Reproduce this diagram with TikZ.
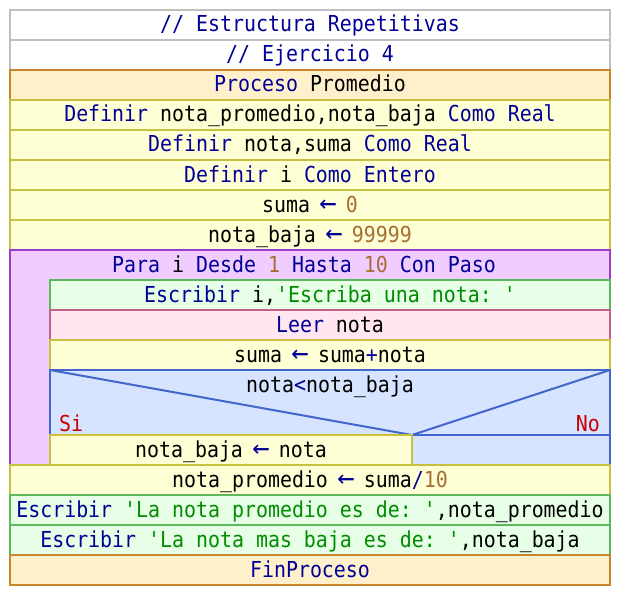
\documentclass[tikz,border=0pt]{standalone}
\usepackage{fontspec}
\setmonofont[FakeStretch=0.905]{DejaVu Sans Mono}
\definecolor{kwc}{RGB}{0,0,150}
\definecolor{numc}{RGB}{168,110,48}
\definecolor{strc}{RGB}{0,140,0}
\definecolor{redc}{RGB}{204,0,0}
\definecolor{cgray}{RGB}{192,192,192}
\definecolor{procfill}{RGB}{255,240,204}
\definecolor{procline}{RGB}{200,134,40}
\definecolor{deffill}{RGB}{255,255,214}
\definecolor{defline}{RGB}{200,192,64}
\definecolor{parafill}{RGB}{240,204,255}
\definecolor{paraline}{RGB}{154,60,204}
\definecolor{escfill}{RGB}{230,255,230}
\definecolor{escline}{RGB}{92,184,92}
\definecolor{leerfill}{RGB}{255,230,240}
\definecolor{leerline}{RGB}{192,96,136}
\definecolor{iffill}{RGB}{214,228,255}
\definecolor{ifline}{RGB}{68,102,204}
\newcommand{\kwd}[1]{\textcolor{kwc}{#1}}
\newcommand{\nmb}[1]{\textcolor{numc}{#1}}
\newcommand{\strg}[1]{\textcolor{strc}{#1}}
\newcommand{\asg}{\makebox[12pt]{\textcolor{kwc}{\raisebox{-0.5pt}{\scalebox{1.45}[1.3]{←}}}}}
\begin{document}
\begin{tikzpicture}[x=1pt,y=-1pt,
  txt/.style={anchor=base,inner sep=0pt,font=\ttfamily\fontsize{22}{26}\selectfont},
  combox/.style={line width=2pt,draw=cgray,fill=white},
  procbox/.style={line width=2pt,draw=procline,fill=procfill},
  defbox/.style={line width=2pt,draw=defline,fill=deffill},
  parabox/.style={line width=2pt,draw=paraline,fill=parafill},
  escbox/.style={line width=2pt,draw=escline,fill=escfill},
  leerbox/.style={line width=2pt,draw=leerline,fill=leerfill},
  ifbox/.style={line width=2pt,draw=ifline,fill=iffill},
  ifline/.style={line width=2pt,draw=ifline}]
\useasboundingbox (0,0) rectangle (620,596);
% comments
\path[combox] (10,10) rectangle (610,40);
\node[txt,text=kwc] (c1) at (310,32) {// Estructura Repetitivas};
\path[combox] (10,40) rectangle (610,70);
\node[txt,text=kwc] (c2) at (310,62) {// Ejercicio 4};
% proceso
\path[procbox] (10,70) rectangle (610,100);
\node[txt] (p) at (310,92) {\kwd{Proceso} Promedio};
% definitions
\path[defbox] (10,100) rectangle (610,130);
\node[txt] (d1) at (310,122) {\kwd{Definir} nota\_promedio,nota\_baja \kwd{Como Real}};
\path[defbox] (10,130) rectangle (610,160);
\node[txt] (d2) at (310,152) {\kwd{Definir} nota,suma \kwd{Como Real}};
\path[defbox] (10,160) rectangle (610,190);
\node[txt] (d3) at (310,182) {\kwd{Definir} i \kwd{Como Entero}};
\path[defbox] (10,190) rectangle (610,220);
\node[txt] (a1) at (310,212) {suma \asg{} \nmb{0}};
\path[defbox] (10,220) rectangle (610,250);
\node[txt] (a2) at (310,242) {nota\_baja \asg{} \nmb{99999}};
% para loop
\path[parabox] (10,250) -- (610,250) -- (610,280) -- (50,280) -- (50,465) -- (10,465) -- cycle;
\node[txt] (para) at (304,272) {\kwd{Para} i \kwd{Desde} \nmb{1} \kwd{Hasta} \nmb{10} \kwd{Con Paso}};
\path[escbox] (50,280) rectangle (610,310);
\node[txt] (e1) at (330,302) {\kwd{Escribir} i,\strg{'Escriba una nota: '}};
\path[leerbox] (50,310) rectangle (610,340);
\node[txt] (l1) at (330,332) {\kwd{Leer} nota};
\path[defbox] (50,340) rectangle (610,370);
\node[txt] (a3) at (330,362) {suma \asg{} suma\textcolor{kwc}{+}nota};
% if
\path[ifbox] (50,370) rectangle (610,465);
\coordinate (ifm) at (412,435);
\draw[ifline] (50,370) -- (ifm) -- (610,370);
\draw[ifline] (ifm) -- (610,435);
\node[txt] (cond) at (330,392) {nota\textcolor{kwc}{\textless}nota\_baja};
\node[txt,anchor=base west,text=redc] (si) at (59,431) {Si};
\node[txt,anchor=base east,text=redc] (no) at (600,431) {No};
\path[defbox] (50,435) rectangle (412,465);
\node[txt] (a4) at (231,457) {nota\_baja \asg{} nota};
% after loop
\path[defbox] (10,465) rectangle (610,495);
\node[txt] (a5) at (310,487) {nota\_promedio \asg{} suma\textcolor{kwc}{/}\nmb{10}};
\path[escbox] (10,495) rectangle (610,525);
\node[txt] (e2) at (310,517) {\kwd{Escribir} \strg{'La nota promedio es de: '},nota\_promedio};
\path[escbox] (10,525) rectangle (610,555);
\node[txt] (e3) at (310,547) {\kwd{Escribir} \strg{'La nota mas baja es de: '},nota\_baja};
\path[procbox] (10,555) rectangle (610,585);
\node[txt,text=kwc] (fin) at (310,577) {FinProceso};
\end{tikzpicture}
\end{document}
